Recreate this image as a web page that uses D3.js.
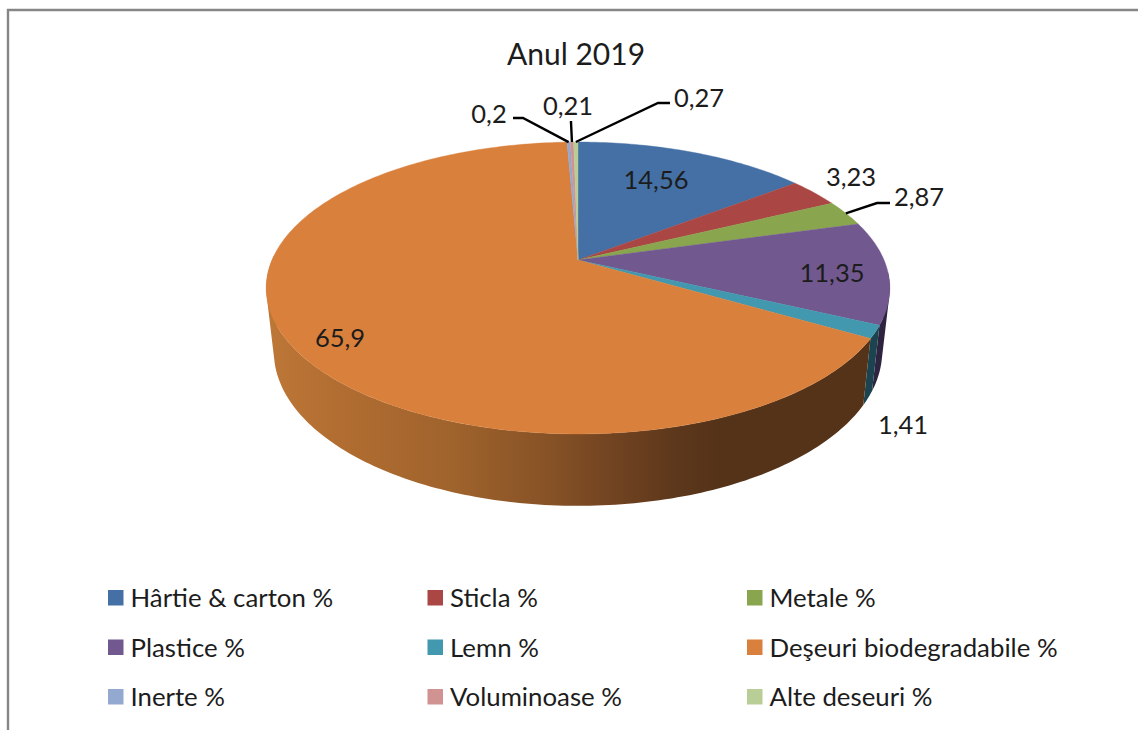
<!DOCTYPE html>
<html><head><meta charset="utf-8">
<script src="https://cdn.jsdelivr.net/npm/d3@7"></script>
<style>html,body{margin:0;padding:0;background:#fff;overflow:hidden}svg{display:block}text{font-family:Lato,"Open Sans",sans-serif;fill:#1c1c1c}</style>
</head><body><svg id="c" width="1138" height="730"></svg>
<script>
const categories = ["Hârtie & carton %","Sticla %","Metale %","Plastice %","Lemn %","Deşeuri biodegradabile %","Inerte %","Voluminoase %","Alte deseuri %"];
const values = [14.56,3.23,2.87,11.35,1.41,65.9,0.2,0.21,0.27];
const valueLabels = ["14,56","3,23","2,87","11,35","1,41","65,9","0,2","0,21","0,27"];
const topColors = ["#4470A5","#AA4643","#89A54E","#71588F","#4198AF","#D9803C","#93A9CF","#D19392","#B9CD96"];
const wallColors = ["#2a4263","#662a28","#52632f","#2f2440","#1c4450","#000","#58657c","#7d5857","#6f7b5a"];
const title = "Anul 2019";

const svg = d3.select("#c");
const defs = svg.append("defs");

const apexX = 578, k = -0.1918;
function proj(theta, r, cy, a, b){
  const u = r*Math.sin(theta), v = -r*Math.cos(theta), w = 1 + k*v;
  return [apexX + b*u/w, cy + a*v/w];
}
const topDisc = (t,r=1)=>proj(t,r,260,140.6,306);
const botDisc = (t,r=1)=>proj(t,r,322,148.6,298.5);
const line = d3.line();
const arcs = d3.pie().sort(null).value(d=>d).startAngle(0).endAngle(2*Math.PI)(values);
const rad = Math.PI/180;

const g = defs.append("linearGradient").attr("id","wall").attr("gradientUnits","userSpaceOnUse")
  .attr("x1",267).attr("x2",891).attr("y1",0).attr("y2",0);
[[0,"#bd7737"],[.1,"#b36e32"],[.3,"#9f632c"],[.45,"#875226"],[.55,"#724421"],[.66,"#5c371b"],[.72,"#553319"],[1,"#553319"]]
  .forEach(s=>g.append("stop").attr("offset",s[0]).attr("stop-color",s[1]));

// side wall: one path per slice made of consistently oriented quads, so its fill is their union
const wallMin = 95*rad, wallMax = 272*rad;
const wallG = svg.append("g");
arcs.forEach((d,i)=>{
  const s = Math.max(d.startAngle,wallMin), e = Math.min(d.endAngle,wallMax);
  if(e<=s) return;
  const n = Math.max(2,Math.ceil((e-s)/(1*rad)));
  const path = d3.range(n).map(j=>{
    const a = s+(e-s)*j/n, b = s+(e-s)*(j+1)/n;
    const quad = [topDisc(a),topDisc(b),botDisc(b),botDisc(a)];
    if(d3.polygonArea(quad)<0) quad.reverse();
    return line(quad)+"Z";
  }).join("");
  wallG.append("path").attr("d",path)
    .attr("fill", i===5?"url(#wall)":wallColors[i]);
});

const topG = svg.append("g");
arcs.forEach((d,i)=>{
  const n = Math.max(4,Math.ceil((d.endAngle-d.startAngle)/(1*rad)));
  const pts = [[apexX,260]].concat(d3.range(0,n+1).map(j=>topDisc(d.startAngle+(d.endAngle-d.startAngle)*j/n)));
  topG.append("path").attr("d",line(pts)+"Z").attr("fill",topColors[i]).attr("stroke",topColors[i]).attr("stroke-width",.4);
});

svg.append("path").attr("d","M8,730V10H1138").attr("fill","none").attr("stroke","#868686").attr("stroke-width",2.4);

svg.append("text").attr("x",576).attr("y",54).attr("dy","0.35em").attr("text-anchor","middle").attr("font-size",30).text(title);

const labelPos = [[656,180],[851,177],[919,197],[832,273],[903,425],[340,338],[489,114],[568,106],[699,98]];
valueLabels.forEach((t,i)=>svg.append("text").attr("x",labelPos[i][0]).attr("y",labelPos[i][1]).attr("dy","0.35em")
  .attr("text-anchor","middle").attr("font-size",25.5).text(t));

const leaders = {2:[[890,203],[877,203]],6:[[513,118],[523,118]],7:[[571,121],[571,122]],8:[[670,103],[658,103]]};
Object.keys(leaders).forEach(i=>{
  const d = arcs[i], mid = (d.startAngle+d.endAngle)/2;
  svg.append("path").attr("d",line(leaders[i].concat([topDisc(mid)])))
    .attr("fill","none").attr("stroke","#000").attr("stroke-width",2.4);
});

const colX = d3.scalePoint().domain([0,1,2]).range([108,747]);
const rowY = d3.scalePoint().domain([0,1,2]).range([598,697]);
categories.forEach((c,i)=>{
  const x = colX(i%3), y = rowY(Math.floor(i/3));
  svg.append("rect").attr("x",x).attr("y",y-8).attr("width",15.5).attr("height",15.5).attr("fill",topColors[i]);
  svg.append("text").attr("x",x+22.5).attr("y",y).attr("dy","0.35em").attr("font-size",25.8).text(c);
});
</script></body></html>
